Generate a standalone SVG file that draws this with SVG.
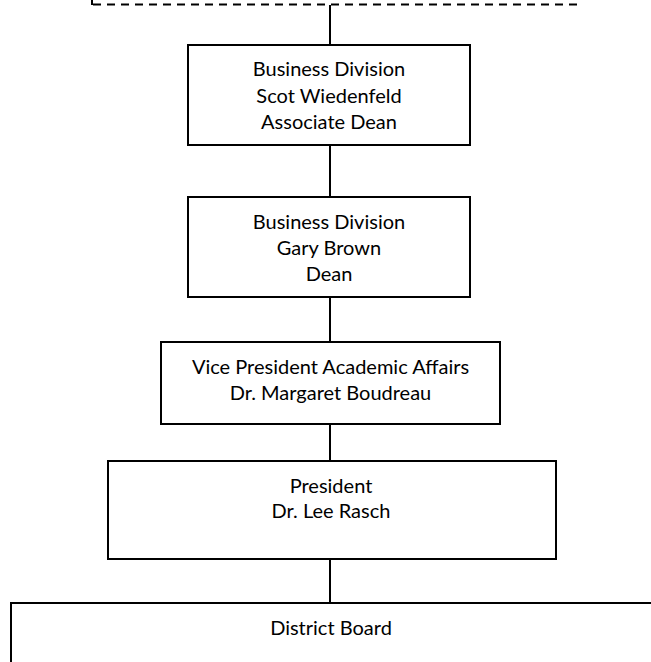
<svg xmlns="http://www.w3.org/2000/svg" width="651" height="662" viewBox="0 0 651 662">
  <style>
    .box { fill: #ffffff; stroke: #000000; stroke-width: 2; }
    .link { fill: none; stroke: #000000; stroke-width: 2; }
    .dash { fill: none; stroke: #000000; stroke-width: 2; stroke-dasharray: 8 6; }
    .label { font-family: Lato, "Open Sans", "Liberation Sans", sans-serif; font-size: 20px; fill: #000000; text-anchor: middle; }
  </style>
  <rect width="651" height="662" fill="#ffffff"/>

  <!-- connectors -->
  <g id="connectors">
    <path class="link" d="M92 0 V5"/>
    <path class="dash" d="M93 4.5 H577"/>
    <path class="link" d="M330 5 V45"/>
    <path class="link" d="M330 145 V197"/>
    <path class="link" d="M330 297 V342"/>
    <path class="link" d="M330 424 V461"/>
    <path class="link" d="M330 559 V603"/>
  </g>

  <g id="associate-dean">
    <rect class="box" x="188" y="45" width="282" height="100"/>
    <text class="label" x="329" y="76">Business Division</text>
    <text class="label" x="329" y="103">Scot Wiedenfeld</text>
    <text class="label" x="329" y="129">Associate Dean</text>
  </g>

  <g id="dean">
    <rect class="box" x="188" y="197" width="282" height="100"/>
    <text class="label" x="329" y="229">Business Division</text>
    <text class="label" x="329" y="255">Gary Brown</text>
    <text class="label" x="329" y="281">Dean</text>
  </g>

  <g id="vp-academic-affairs">
    <rect class="box" x="161" y="342" width="339" height="82"/>
    <text class="label" x="330.5" y="374">Vice President Academic Affairs</text>
    <text class="label" x="330.5" y="400">Dr. Margaret Boudreau</text>
  </g>

  <g id="president">
    <rect class="box" x="108" y="461" width="448" height="98"/>
    <text class="label" x="331" y="493">President</text>
    <text class="label" x="331" y="518">Dr. Lee Rasch</text>
  </g>

  <g id="district-board">
    <rect class="box" x="11" y="603" width="700" height="100"/>
    <text class="label" x="331" y="635">District Board</text>
  </g>
</svg>
